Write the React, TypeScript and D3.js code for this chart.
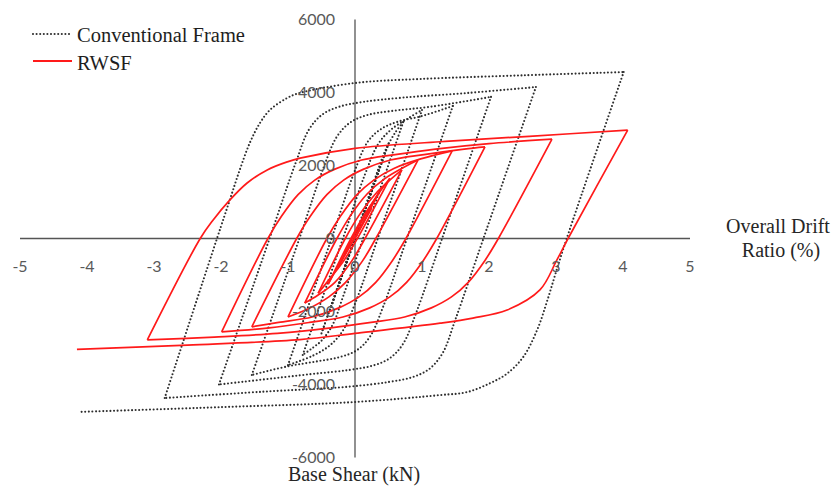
import React from 'react';
import * as d3 from 'd3';

type Pt = [number, number]; // [overall drift ratio (%), base shear (kN)]

const xTicks: number[] = [-5, -4, -3, -2, -1, 0, 1, 2, 3, 4, 5];
const yTicks: number[] = [-6000, -4000, -2000, 0, 2000, 4000, 6000];

// Conventional frame: one half-cycle per entry, each starting at the previous peak
const conventionalFrame: Pt[][] = [
  [[0, 0], [0.25, 1300]],
  [[0.25, 1300], [-0.25, -1300]],
  [[-0.25, -1300], [0.37, 1950]],
  [[0.37, 1950], [-0.37, -1950]],
  [[-0.37, -1950], [0.5, 2600]],
  [[0.5, 2600], [-0.5, -2600]],
  [[-0.5, -2600], [-0.01, 0], [0.29, 1600], [0.45, 2400], [0.6, 2900], [0.72, 3190]],
  [[0.72, 3190], [0.12, 0], [-0.18, -1600], [-0.33, -2350], [-0.5, -2800], [-0.65, -3020], [-0.78, -3190]],
  [[-0.78, -3190], [-0.18, 0], [0.15, 1760], [0.35, 2600], [0.55, 3000], [0.8, 3300], [1.0, 3520]],
  [[1.0, 3520], [0.34, 0], [0.01, -1740], [-0.19, -2550], [-0.39, -2950], [-0.64, -3220], [-1.0, -3470]],
  [[-1.0, -3470], [-0.35, 0], [-0.01, 1820], [0.19, 2650], [0.39, 3000], [0.64, 3200], [0.99, 3350], [1.46, 3630]],
  [[1.46, 3630], [0.775, 0], [0.42, -1870], [0.22, -2700], [0.02, -3070], [-0.23, -3250], [-0.58, -3370], [-1.0, -3500], [-1.54, -3740]],
  [[-1.54, -3740], [-0.83, 0], [-0.47, 1940], [-0.27, 2790], [-0.07, 3180], [0.18, 3380], [0.53, 3490], [1.13, 3610], [2.03, 3880]],
  [[2.03, 3880], [1.3, 0], [0.92, -2000], [0.72, -2880], [0.52, -3280], [0.27, -3480], [-0.08, -3600], [-0.68, -3720], [-2.03, -4000]],
  [[-2.03, -4000], [-1.275, 0], [-0.885, 2075], [-0.685, 2990], [-0.485, 3400], [-0.235, 3610], [0.115, 3740], [0.715, 3860], [1.7, 3990], [2.7, 4150]],
  [[2.7, 4150], [1.917, 0], [1.505, -2185], [1.305, -3150], [1.105, -3580], [0.855, -3800], [0.505, -3930], [-0.095, -4060], [-1.4, -4200], [-2.84, -4370]],
  [[-2.84, -4370], [-2.06, 0], [-1.87, 1050], [-1.72, 1880], [-1.57, 2620], [-1.42, 3160], [-1.27, 3520], [-1.01, 3850], [-0.82, 3990], [0, 4260], [0.97, 4370], [2.5, 4470], [4.01, 4560]],
  [[4.01, 4560], [3.16, 0], [3.01, -860], [2.87, -1700], [2.72, -2500], [2.51, -3250], [2.27, -3700], [2.01, -3970], [1.67, -4210], [1.27, -4290], [0, -4480], [-2, -4620], [-4.1, -4750]],
];

// RWSF: same loading protocol
const rwsf: Pt[][] = [
  [[0, 0], [0.25, 850]],
  [[0.25, 850], [-0.27, -850]],
  [[-0.27, -850], [-0.04, 0], [0.16, 650], [0.37, 1300]],
  [[0.37, 1300], [-0.01, 0], [-0.21, -620], [-0.4, -1250]],
  [[-0.4, -1250], [-0.06, 0], [0.14, 650], [0.34, 1200], [0.52, 1650]],
  [[0.52, 1650], [0.035, 0], [-0.165, -600], [-0.375, -1100], [-0.55, -1500]],
  [[-0.55, -1500], [-0.145, 0], [0.055, 620], [0.305, 1220], [0.52, 1600], [0.7, 1880]],
  [[0.7, 1880], [0.15, 0], [-0.05, -620], [-0.3, -1200], [-0.55, -1550], [-0.75, -1770]],
  [[-0.75, -1770], [-0.27, 0], [-0.07, 620], [0.18, 1220], [0.43, 1620], [0.73, 1950], [0.94, 2150]],
  [[0.94, 2150], [0.31, 0], [0.11, -620], [-0.14, -1200], [-0.39, -1600], [-0.69, -1920], [-1.0, -2150]],
  [[-1.0, -2150], [-0.42, 0], [-0.22, 600], [0.03, 1200], [0.28, 1600], [0.58, 1920], [0.98, 2180], [1.45, 2400]],
  [[1.45, 2400], [0.76, 0], [0.56, -600], [0.31, -1200], [0.06, -1600], [-0.24, -1900], [-0.64, -2150], [-1.14, -2300], [-1.54, -2420]],
  [[-1.54, -2420], [-0.87, 0], [-0.67, 600], [-0.42, 1200], [-0.17, 1600], [0.13, 1900], [0.53, 2150], [1.03, 2300], [1.63, 2450], [1.94, 2510]],
  [[1.94, 2510], [1.22, 0], [1.02, -600], [0.77, -1200], [0.52, -1600], [0.22, -1900], [-0.18, -2150], [-0.68, -2300], [-1.28, -2450], [-1.99, -2560]],
  [[-1.99, -2560], [-1.3, 0], [-1.1, 600], [-0.85, 1200], [-0.6, 1600], [-0.3, 1900], [0.1, 2150], [0.6, 2300], [1.2, 2450], [2.0, 2600], [2.94, 2720]],
  [[2.94, 2720], [2.14, 0], [1.94, -600], [1.69, -1200], [1.44, -1600], [1.14, -1900], [0.74, -2150], [0.24, -2300], [-0.36, -2450], [-1.16, -2600], [-2.1, -2700], [-3.1, -2780]],
  [[-3.1, -2780], [-2.31, 0], [-2.12, 500], [-1.87, 1050], [-1.61, 1520], [-1.31, 1880], [-1.01, 2100], [-0.82, 2200], [0, 2470], [1.27, 2650], [2.6, 2800], [4.07, 2970]],
  [[4.07, 2970], [3.18, 0], [3.01, -600], [2.76, -1410], [2.27, -1960], [1.76, -2180], [1.27, -2320], [0, -2600], [-0.82, -2770], [-2.5, -2920], [-4.15, -3040]],
];

const W = 836;
const H = 490;

const x = d3.scaleLinear().domain([-5, 5]).range([20, 690]);
const y = d3.scaleLinear().domain([-6000, 6000]).range([457.5, 19.5]);

const line = d3
  .line<Pt>()
  .x((d) => x(d[0]))
  .y((d) => y(d[1]))
  .curve(d3.curveCatmullRom.alpha(0.5));

const tickFont = 'Lato, "Open Sans", sans-serif';
const serif = '"Liberation Serif", "Times New Roman", serif';
const dotted = { stroke: '#2e2e2e', strokeWidth: 2.1, strokeDasharray: '0 3.6', strokeLinecap: 'round' as const };
const red = '#ff1a1a';

export default function App() {
  const x0 = x(0);
  const y0 = y(0);
  return (
    <svg
      width={W}
      height={H}
      viewBox={`0 0 ${W} ${H}`}
      style={{ position: 'absolute', left: 0, top: 0, background: '#fff' }}
    >
      <rect width={W} height={H} fill="#fff" />

      {/* axes crossing at the origin */}
      <line x1={x(-5)} x2={x(5)} y1={y0} y2={y0} stroke="#555" strokeWidth={1.3} />
      <line x1={x0} x2={x0} y1={y(6000)} y2={y(-6000)} stroke="#555" strokeWidth={1.3} />

      {/* hysteresis loops */}
      <g fill="none">
        {conventionalFrame.map((b, i) => (
          <path key={`c${i}`} d={line(b) ?? ''} {...dotted} />
        ))}
        {rwsf.map((b, i) => (
          <path key={`r${i}`} d={line(b) ?? ''} stroke={red} strokeWidth={1.7} strokeLinejoin="round" />
        ))}
      </g>

      {/* tick labels */}
      <g fontFamily={tickFont} fontSize={16} fill="#595959">
        {xTicks.map((t) => (
          <text key={`x${t}`} x={x(t)} y={y0 + 27} textAnchor="middle" dominantBaseline="central">
            {t < 0 ? `-${Math.abs(t)}` : `${t}`}
          </text>
        ))}
        {yTicks.map((t) => (
          <text key={`y${t}`} x={x0 - 20} y={y(t) - 1} textAnchor="end" dominantBaseline="central">
            {t < 0 ? `-${Math.abs(t)}` : `${t}`}
          </text>
        ))}
      </g>

      {/* axis titles */}
      <g fontFamily={serif} fontSize={20} fill="#262626" textAnchor="middle">
        <text x={778} y={233}>Overall Drift</text>
        <text x={781} y={257}>Ratio (%)</text>
        <text x={354} y={481}>Base Shear (kN)</text>
      </g>

      {/* legend */}
      <g fontFamily={serif} fontSize={20.5} fill="#1e1e1e">
        <line x1={33} x2={72} y1={34} y2={34} {...dotted} />
        <text x={77} y={42}>Conventional Frame</text>
        <line x1={33} x2={72} y1={61} y2={61} stroke={red} strokeWidth={1.9} />
        <text x={77} y={70}>RWSF</text>
      </g>
    </svg>
  );
}
